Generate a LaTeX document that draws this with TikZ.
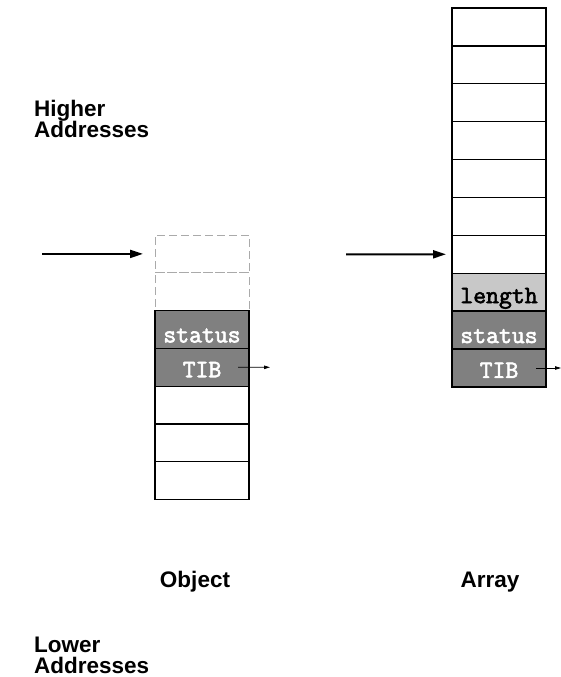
\documentclass[tikz,border=0pt]{standalone}
\usepackage{fontspec}
\setmainfont{Liberation Sans}
\newfontfamily\cellfont[FakeBold=2.5]{Latin Modern Mono}
\usetikzlibrary{arrows.meta}
\definecolor{darkcell}{HTML}{808080}
\definecolor{lightcell}{HTML}{C8C8C8}
\definecolor{dashgray}{HTML}{AAAAAA}
\begin{document}
\begin{tikzpicture}[x=1pt,y=-1pt,
  cell/.style={draw=black,line width=1.3pt,minimum width=94pt,minimum height=37.8pt,anchor=north west,inner sep=0pt,outer sep=0pt},
  ghost/.style={draw=dashgray,line width=1pt,dash pattern=on 8pt off 4pt,minimum width=94pt,minimum height=37.8pt,anchor=north west,inner sep=0pt,outer sep=0pt},
  darkc/.style={cell,fill=darkcell},
  lightc/.style={cell,fill=lightcell},
  ctxt/.style={anchor=base,inner sep=0pt,font=\cellfont\fontsize{25}{25}\selectfont},
  ctxtw/.style={ctxt,text=white},
  lbl/.style={anchor=base west,inner sep=0pt,font=\fontsize{22.5}{23}\selectfont\bfseries},
  clbl/.style={anchor=base,inner sep=0pt,font=\fontsize{22.5}{23}\selectfont\bfseries},
  bigarrow/.style={line width=2pt,-{Triangle[length=13pt,width=8pt]}},
  smallarrow/.style={line width=0.8pt,-{Triangle[length=6pt,width=3.5pt]}}
]
\useasboundingbox (0,0) rectangle (561,677);

% Object column
\node[ghost] (og1) at (155,235) {};
\node[ghost] (og2) at (155,272.8) {};
\node[darkc] (ost) at (155,310.6) {};
\node[darkc] (otib) at (155,348.4) {};
\node[cell] (ow1) at (155,386.2) {};
\node[cell] (ow2) at (155,424) {};
\node[cell] (ow3) at (155,461.8) {};
\node[ctxtw] (ostT) at ([yshift=6pt]ost.south) {status};
\node[ctxtw] (otibT) at ([yshift=9pt]otib.south) {TIB};

% Array column
\node[cell] (aw1) at (452,8) {};
\node[cell] (aw2) at (452,45.9) {};
\node[cell] (aw3) at (452,83.8) {};
\node[cell] (aw4) at (452,121.7) {};
\node[cell] (aw5) at (452,159.6) {};
\node[cell] (aw6) at (452,197.5) {};
\node[cell] (aw7) at (452,235.4) {};
\node[lightc] (alen) at (452,273.3) {};
\node[darkc] (ast) at (452,311.2) {};
\node[darkc] (atib) at (452,349.1) {};
\node[ctxt] (alenT) at ([yshift=8pt]alen.south) {length};
\node[ctxtw] (astT) at ([yshift=6pt]ast.south) {status};
\node[ctxtw] (atibT) at ([yshift=9pt]atib.south) {TIB};

% pointer arrows
\coordinate (oStart) at (42,253.9);
\draw[bigarrow] (oStart) -- ([xshift=-12pt]og1.west);
\coordinate (aStart) at (346,254.3);
\draw[bigarrow] (aStart) -- ([xshift=-6pt]aw7.west);

% TIB arrows
\coordinate (oTibEnd) at (270,367.3);
\draw[smallarrow] ([xshift=-11pt]otib.east) -- (oTibEnd);
\coordinate (aTibEnd) at (561,368);
\draw[smallarrow] ([xshift=-10pt]atib.east) -- (aTibEnd);

% labels
\node[lbl] (hi1) at (34,116) {Higher};
\node[lbl] (hi2) at (34,137) {Addresses};
\node[lbl] (lo1) at (34,652) {Lower};
\node[lbl] (lo2) at (34,673) {Addresses};
\node[clbl] (objL) at (195,587) {Object};
\node[clbl] (arrL) at (490,587) {Array};
\end{tikzpicture}
\end{document}
